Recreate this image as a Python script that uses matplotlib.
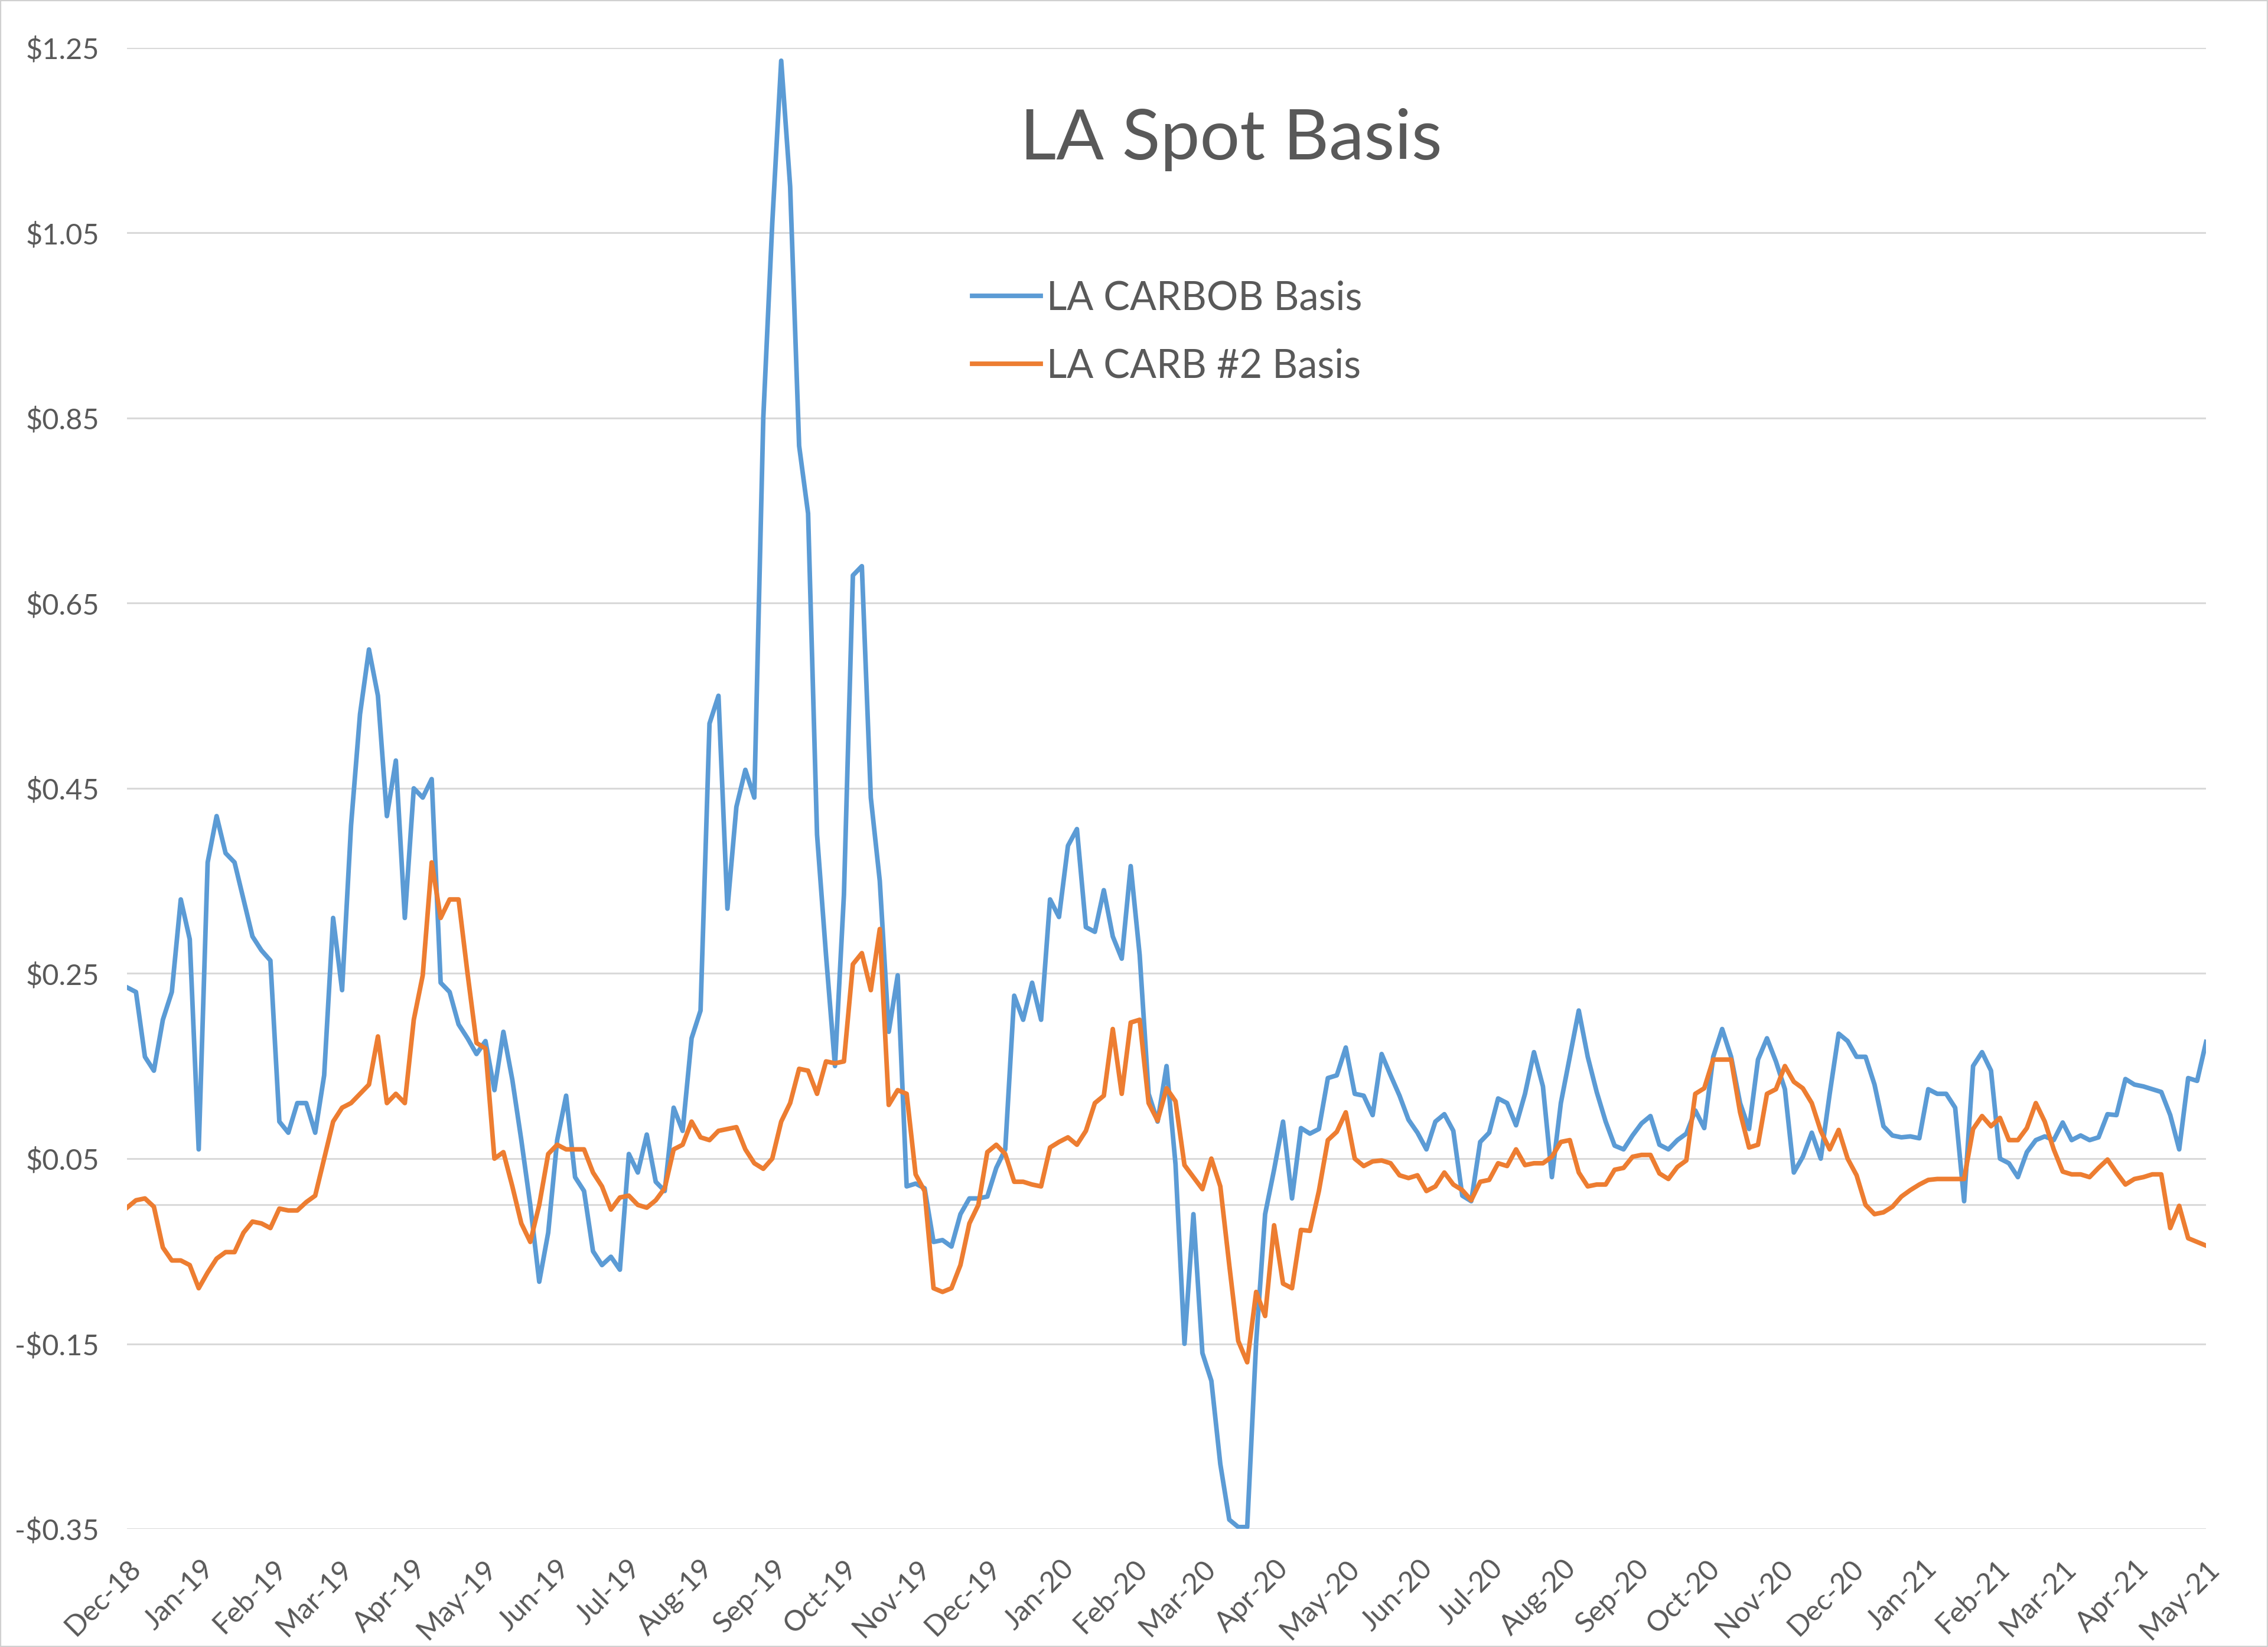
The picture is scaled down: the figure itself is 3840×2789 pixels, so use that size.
import pandas as pd
import matplotlib
matplotlib.use('Agg')
import matplotlib.pyplot as plt
import matplotlib.dates as mdates
from matplotlib.ticker import FuncFormatter
from matplotlib.patches import Rectangle

plt.rcParams['font.family'] = ['Lato', 'DejaVu Sans']

# LA CARBOB basis, 8 readings per month, Dec-18 .. Apr-21, plus last May-21 value
carbob = [
    0.235, 0.23, 0.16, 0.145, 0.20, 0.23, 0.33, 0.287,        # Dec-18
    0.06, 0.37, 0.42, 0.38, 0.37, 0.33, 0.29, 0.275,          # Jan-19
    0.264, 0.09, 0.078, 0.11, 0.11, 0.078, 0.14, 0.31,        # Feb-19
    0.232, 0.41, 0.53, 0.60, 0.55, 0.42, 0.48, 0.31,          # Mar-19
    0.45, 0.44, 0.46, 0.24, 0.23, 0.195, 0.18, 0.163,         # Apr-19
    0.177, 0.124, 0.187, 0.135, 0.07, 0.0, -0.083, -0.03,     # May-19
    0.07, 0.118, 0.03, 0.015, -0.05, -0.065, -0.056, -0.07,   # Jun-19
    0.055, 0.035, 0.076, 0.025, 0.015, 0.105, 0.08, 0.18,     # Jul-19
    0.21, 0.52, 0.55, 0.32, 0.43, 0.47, 0.44, 0.85,           # Aug-19
    1.06, 1.236, 1.10, 0.82, 0.747, 0.40, 0.27, 0.15,         # Sep-19
    0.335, 0.68, 0.69, 0.44, 0.35, 0.187, 0.248, 0.02,        # Oct-19
    0.023, 0.018, -0.04, -0.038, -0.045, -0.01, 0.007, 0.007,  # Nov-19
    0.009, 0.04, 0.06, 0.226, 0.20, 0.24, 0.20, 0.33,         # Dec-19
    0.311, 0.388, 0.406, 0.30, 0.295, 0.34, 0.29, 0.266,      # Jan-20
    0.366, 0.27, 0.12, 0.09, 0.15, 0.044, -0.15, -0.01,       # Feb-20
    -0.16, -0.19, -0.28, -0.34, -0.348, -0.348, -0.148, -0.01,  # Mar-20
    0.038, 0.09, 0.007, 0.083, 0.077, 0.082, 0.137, 0.14,     # Apr-20
    0.17, 0.12, 0.118, 0.097, 0.163, 0.14, 0.118, 0.092,      # May-20
    0.078, 0.06, 0.09, 0.098, 0.08, 0.01, 0.004, 0.068,       # Jun-20
    0.078, 0.115, 0.11, 0.086, 0.12, 0.165, 0.128, 0.03,      # Jul-20
    0.11, 0.16, 0.21, 0.16, 0.122, 0.09, 0.064, 0.06,         # Aug-20
    0.075, 0.088, 0.096, 0.065, 0.06, 0.07, 0.077, 0.102,     # Sep-20
    0.083, 0.16, 0.19, 0.16, 0.11, 0.082, 0.157, 0.18,        # Oct-20
    0.155, 0.125, 0.035, 0.052, 0.078, 0.05, 0.12, 0.185,     # Nov-20
    0.177, 0.16, 0.16, 0.13, 0.085, 0.075, 0.073, 0.074,      # Dec-20
    0.072, 0.125, 0.12, 0.12, 0.105, 0.004, 0.15, 0.165,      # Jan-21
    0.145, 0.05, 0.045, 0.03, 0.057, 0.07, 0.074, 0.07,       # Feb-21
    0.089, 0.07, 0.075, 0.07, 0.073, 0.098, 0.097, 0.136,     # Mar-21
    0.13, 0.128, 0.125, 0.122, 0.097, 0.06, 0.137, 0.134,     # Apr-21
    0.176,                                                    # May-21
]

# LA CARB #2 basis, same sampling
carb2 = [
    -0.003, 0.005, 0.007, -0.002, -0.046, -0.06, -0.06, -0.065,   # Dec-18
    -0.09, -0.073, -0.058, -0.051, -0.051, -0.03, -0.018, -0.02,  # Jan-19
    -0.025, -0.004, -0.006, -0.006, 0.003, 0.01, 0.05, 0.09,      # Feb-19
    0.105, 0.11, 0.12, 0.13, 0.182, 0.11, 0.12, 0.11,             # Mar-19
    0.20, 0.248, 0.37, 0.31, 0.33, 0.33, 0.25, 0.175,             # Apr-19
    0.169, 0.05, 0.057, 0.02, -0.02, -0.04, 0.0, 0.055,           # May-19
    0.065, 0.06, 0.06, 0.06, 0.035, 0.02, -0.005, 0.008,          # Jun-19
    0.01, 0.0, -0.003, 0.005, 0.018, 0.06, 0.065, 0.09,           # Jul-19
    0.073, 0.07, 0.08, 0.082, 0.084, 0.06, 0.045, 0.039,          # Aug-19
    0.05, 0.09, 0.11, 0.147, 0.145, 0.12, 0.155, 0.153,           # Sep-19
    0.155, 0.26, 0.272, 0.232, 0.298, 0.108, 0.124, 0.12,         # Oct-19
    0.033, 0.015, -0.09, -0.094, -0.09, -0.065, -0.02, 0.0,       # Nov-19
    0.057, 0.065, 0.055, 0.025, 0.025, 0.022, 0.02, 0.062,        # Dec-19
    0.068, 0.073, 0.065, 0.08, 0.11, 0.118, 0.19, 0.12,           # Jan-20
    0.197, 0.20, 0.11, 0.091, 0.126, 0.112, 0.043, 0.03,          # Feb-20
    0.017, 0.05, 0.02, -0.065, -0.147, -0.17, -0.094, -0.12,      # Mar-20
    -0.022, -0.085, -0.09, -0.027, -0.028, 0.015, 0.07, 0.079,    # Apr-20
    0.10, 0.05, 0.042, 0.047, 0.048, 0.045, 0.032, 0.029,         # May-20
    0.032, 0.015, 0.02, 0.035, 0.022, 0.016, 0.005, 0.025,        # Jun-20
    0.027, 0.045, 0.042, 0.06, 0.043, 0.045, 0.045, 0.052,        # Jul-20
    0.068, 0.07, 0.035, 0.02, 0.022, 0.022, 0.038, 0.04,          # Aug-20
    0.052, 0.054, 0.054, 0.034, 0.028, 0.041, 0.048, 0.12,        # Sep-20
    0.126, 0.157, 0.157, 0.157, 0.10, 0.062, 0.065, 0.12,         # Oct-20
    0.125, 0.15, 0.133, 0.126, 0.11, 0.08, 0.06, 0.081,           # Nov-20
    0.05, 0.032, 0.0, -0.01, -0.008, -0.002, 0.009, 0.016,        # Dec-20
    0.022, 0.027, 0.028, 0.028, 0.028, 0.028, 0.082, 0.096,       # Jan-21
    0.085, 0.094, 0.07, 0.07, 0.083, 0.11, 0.09, 0.06,            # Feb-21
    0.036, 0.033, 0.033, 0.03, 0.04, 0.049, 0.035, 0.022,         # Mar-21
    0.028, 0.03, 0.033, 0.033, -0.025, -0.001, -0.036, -0.04,     # Apr-21
    -0.044,                                                       # May-21
]

dates = pd.date_range('2018-12-01', '2021-05-01', periods=len(carbob))

blue = '#5B9BD5'
orange = '#ED7D31'
grey_txt = '#595959'
grid_c = '#D9D9D9'

fig = plt.figure(figsize=(19.2, 13.945), dpi=200)
ax = fig.add_axes([0.056, 0.0717, 0.9167, 0.8993])

ax.plot(dates, carbob, color=blue, lw=2.8, label='LA CARBOB Basis', zorder=3)
ax.plot(dates, carb2, color=orange, lw=2.8, label='LA CARB #2 Basis', zorder=4)

ax.set_ylim(-0.35, 1.25)
ax.set_yticks([-0.35, -0.15, 0.05, 0.25, 0.45, 0.65, 0.85, 1.05, 1.25])


def money(v, pos):
    return f'${v:.2f}' if v >= 0 else f'-${-v:.2f}'


ax.yaxis.set_major_formatter(FuncFormatter(money))
ax.set_xlim(dates[0], dates[-1])
ax.xaxis.set_major_locator(mdates.MonthLocator())
ax.xaxis.set_major_formatter(mdates.DateFormatter('%b-%y'))

ax.grid(axis='y', color=grid_c, lw=1.1, zorder=0)
ax.axhline(0, color=grid_c, lw=1.1, zorder=1)
for s in ax.spines.values():
    s.set_visible(False)
ax.tick_params(length=0, colors=grey_txt, labelsize=17.5)
ax.tick_params(axis='y', pad=17)
ax.tick_params(axis='x', pad=16)
for lab in ax.get_xticklabels():
    lab.set_rotation(45)
    lab.set_ha('right')
    lab.set_rotation_mode('anchor')

fig.text(0.5427, 0.9032, 'LA Spot Basis', ha='center', va='baseline',
         fontsize=43, color=grey_txt)

leg = fig.legend(loc='center left', bbox_to_anchor=(0.4286, 0.7982), frameon=False,
                 fontsize=24, handlelength=1.75, handletextpad=0.15, borderpad=0,
                 borderaxespad=0, labelspacing=0.8)
for t in leg.get_texts():
    t.set_color(grey_txt)

fig.add_artist(Rectangle((0, 0), 1, 1, transform=fig.transFigure, fill=False,
                         ec='#D0D0D0', lw=1.5))

fig.savefig('out.png', dpi=200, facecolor='white')
